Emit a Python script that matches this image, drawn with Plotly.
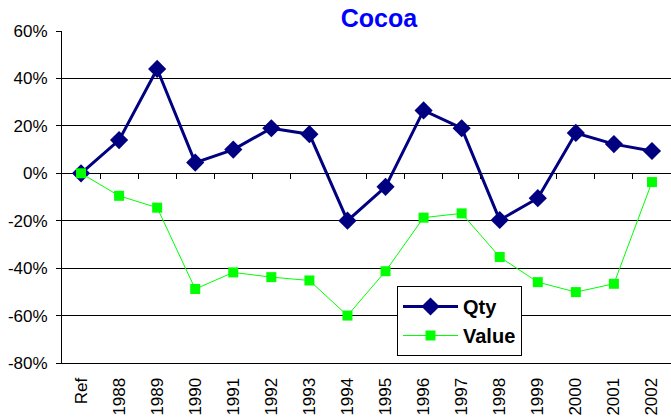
import plotly.graph_objects as go

categories = ["Ref", "1988", "1989", "1990", "1991", "1992", "1993", "1994", "1995",
              "1996", "1997", "1998", "1999", "2000", "2001", "2002"]
qty = [0.0, 0.14, 0.44, 0.045, 0.10, 0.19, 0.165, -0.20, -0.057, 0.265, 0.19,
       -0.197, -0.105, 0.17, 0.123, 0.094]
value = [0.0, -0.095, -0.145, -0.488, -0.418, -0.438, -0.452, -0.60, -0.413,
         -0.187, -0.169, -0.353, -0.459, -0.501, -0.466, -0.037]
y_ticks = [-0.8, -0.6, -0.4, -0.2, 0.0, 0.2, 0.4, 0.6]
y_tick_labels = ["-80%", "-60%", "-40%", "-20%", "0%", "20%", "40%", "60%"]

FONT = "Arial, Liberation Sans, sans-serif"
n = len(categories)

fig = go.Figure()
fig.add_trace(go.Scatter(
    x=categories, y=qty, name="Qty", mode="lines+markers",
    line=dict(color="#000080", width=3),
    marker=dict(symbol="diamond", size=14, color="#000080"),
))
fig.add_trace(go.Scatter(
    x=categories, y=value, name="Value", mode="lines+markers",
    line=dict(color="#00FF00", width=1),
    marker=dict(symbol="square", size=10, color="#00FF00"),
))
# helper trace so that the tick-only axis at 0% is drawn
fig.add_trace(go.Scatter(x=[None], y=[None], xaxis="x2", showlegend=False,
                         hoverinfo="skip", mode="lines"))

ymin, ymax = y_ticks[0], y_ticks[-1]
fig.update_layout(
    width=671, height=419,
    margin=dict(l=62, r=0, t=31, b=56),
    paper_bgcolor="white", plot_bgcolor="white",
    font=dict(family=FONT, size=17, color="black"),
    title=dict(text="Cocoa", x=379 / 671, xanchor="center", y=1 - 18 / 419, yanchor="middle",
               font=dict(family=FONT, size=25, color="#0000FF", weight="bold")),
    xaxis=dict(
        type="category", categoryarray=categories, range=[-0.5, n - 0.5],
        tickangle=-90, showgrid=False, showline=True, linecolor="black", linewidth=1,
        ticks="", tickfont=dict(family=FONT, size=17), zeroline=False,
        ticklabelstandoff=7, automargin=False,
    ),
    xaxis2=dict(
        overlaying="x", anchor="free", position=(0 - ymin) / (ymax - ymin),
        range=[-0.5, n - 0.5], tickvals=[i + 0.5 for i in range(n - 1)],
        ticks="outside", ticklen=5, tickcolor="black", showticklabels=False,
        showgrid=False, showline=False, zeroline=False,
    ),
    yaxis=dict(
        range=[ymin, ymax], tickvals=y_ticks, ticktext=y_tick_labels,
        showgrid=True, gridcolor="black", gridwidth=1,
        showline=True, linecolor="black", linewidth=1,
        ticks="outside", ticklen=5, tickcolor="black",
        zeroline=False, tickfont=dict(family=FONT, size=17),
        ticklabelstandoff=5, automargin=False,
    ),
    legend=dict(
        x=(397 - 62) / 609, y=(363 - 286) / 332, xanchor="left", yanchor="top",
        bgcolor="white", bordercolor="black", borderwidth=1,
        font=dict(family=FONT, size=20, weight="bold"),
        itemwidth=55, tracegroupgap=2,
    ),
)

fig.write_html("out.html", config={"displayModeBar": False},
               post_script="document.body.style.margin='0';")
